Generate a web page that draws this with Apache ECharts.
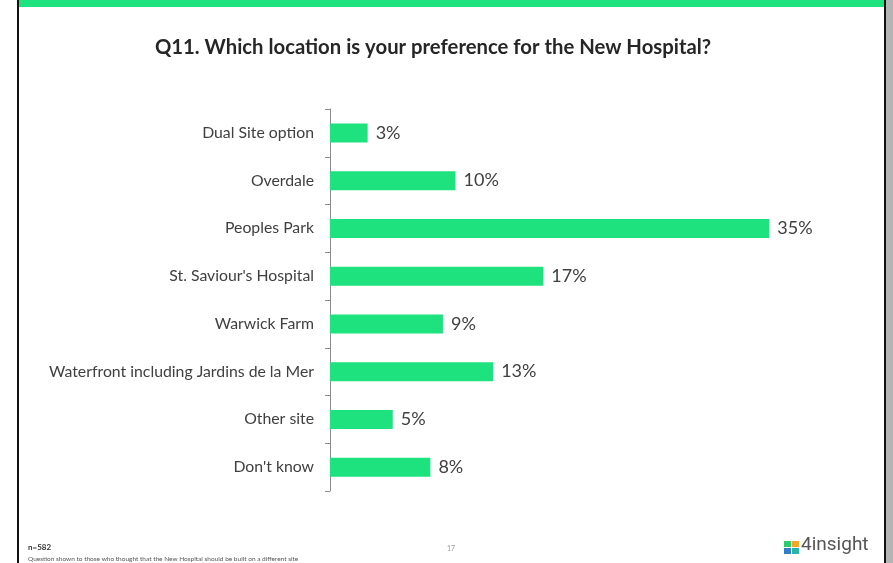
<!DOCTYPE html>
<html>
<head>
<meta charset="utf-8">
<script src="https://cdn.jsdelivr.net/npm/echarts@6/dist/echarts.min.js"></script>
<style>
  html, body { margin: 0; padding: 0; background: #ffffff; }
  #chart { width: 893px; height: 563px; }
</style>
</head>
<body>
<div id="chart"></div>
<script>
// Q11 location preference for the New Hospital
const categories = [
  'Dual Site option',
  'Overdale',
  'Peoples Park',
  "St. Saviour's Hospital",
  'Warwick Farm',
  'Waterfront including Jardins de la Mer',
  'Other site',
  "Don't know"
];
const shares = [3, 10, 35, 17, 9, 13, 5, 8];

const titleText = 'Q11. Which location is your preference for the New Hospital?';
const sampleText = 'n=582';
const noteText = 'Question shown to those who thought that the New Hospital should be built on a different site';
const pageText = '17';
const brandText = '4insight';

const green = '#1ee27d';
const textColor = '#404040';
const font = 'Lato';

const chart = echarts.init(document.getElementById('chart'));
chart.setOption({
  animation: false,
  backgroundColor: '#ffffff',
  title: {
    text: titleText,
    left: 428,
    top: 32,
    textAlign: 'center',
    textStyle: { fontFamily: font, fontWeight: 'bold', fontSize: 20.3, color: '#262626' }
  },
  grid: { left: 330, top: 109, width: 502, height: 382 },
  xAxis: {
    type: 'value',
    min: 0,
    max: 40,
    show: false
  },
  yAxis: {
    type: 'category',
    data: categories,
    inverse: true,
    axisLine: { show: true, lineStyle: { color: '#8c8c8c', width: 1 } },
    axisTick: { show: true, length: 5, lineStyle: { color: '#8c8c8c' } },
    axisLabel: { margin: 16, fontFamily: font, fontSize: 15.8, color: textColor }
  },
  series: [{
    type: 'bar',
    data: shares,
    barWidth: 19,
    itemStyle: { color: green },
    label: {
      show: true,
      position: 'right',
      distance: 8,
      formatter: p => p.value + '%',
      fontFamily: font,
      fontSize: 18,
      color: textColor
    }
  }],
  graphic: [
    // page frame
    { type: 'rect', shape: { x: 19, y: 0, width: 865, height: 7 }, style: { fill: green }, silent: true },
    { type: 'rect', shape: { x: 17, y: 0, width: 2, height: 563 }, style: { fill: '#111111' }, silent: true },
    { type: 'rect', shape: { x: 884, y: 0, width: 2, height: 563 }, style: { fill: '#111111' }, silent: true },
    { type: 'rect', shape: { x: 886, y: 0, width: 7, height: 563 }, style: { fill: '#b4b4b4' }, silent: true },
    // footer
    { type: 'text', left: 28, top: 543, style: { text: sampleText, fontFamily: font, fontSize: 8, fontWeight: 'bold', fill: '#333333' }, silent: true },
    { type: 'text', left: 28, top: 555, style: { text: noteText, fontFamily: font, fontSize: 6.5, fill: '#555555' }, silent: true },
    { type: 'text', left: 447, top: 545, style: { text: pageText, fontFamily: font, fontSize: 7, fill: '#999999' }, silent: true },
    // brand mark
    { type: 'rect', shape: { x: 784, y: 541, width: 7, height: 6 }, style: { fill: '#2ecc71' }, silent: true },
    { type: 'rect', shape: { x: 792, y: 541, width: 7, height: 6 }, style: { fill: '#f5a623' }, silent: true },
    { type: 'rect', shape: { x: 784, y: 548, width: 7, height: 6 }, style: { fill: '#2f80c8' }, silent: true },
    { type: 'rect', shape: { x: 792, y: 548, width: 7, height: 6 }, style: { fill: '#27b6a8' }, silent: true },
    { type: 'text', left: 801, top: 536, style: { text: brandText, fontFamily: 'Roboto', fontSize: 19, fill: '#555555' }, silent: true }
  ]
});
</script>
</body>
</html>
